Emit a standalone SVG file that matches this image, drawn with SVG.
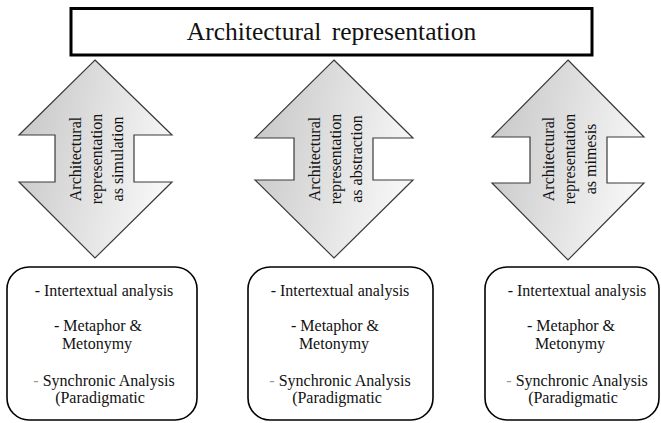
<svg xmlns="http://www.w3.org/2000/svg" width="661" height="423" viewBox="0 0 661 423">
<defs>
<linearGradient id="g" x1="0" y1="0" x2="1" y2="0.3">
<stop offset="0" stop-color="#c4c4c4"/>
<stop offset="1" stop-color="#f5f5f5"/>
</linearGradient>
<style>
text{font-family:"Liberation Serif","Times New Roman",serif;fill:#111;}
.title{font-size:25.5px;word-spacing:4px;}
.ar{fill:url(#g);stroke:#3a3a3a;stroke-width:1.2;}
.al{font-size:16px;text-anchor:middle;}
.bx{fill:#fff;stroke:#000;stroke-width:1.6;}
.bl{font-size:16px;text-anchor:middle;}
.dim{fill:#999;}
</style>
</defs>
<g id="title">
<rect x="71" y="8.5" width="521" height="46.5" fill="#fff" stroke="#000" stroke-width="3"/>
<text class="title" x="331.5" y="40" text-anchor="middle">Architectural representation</text>
</g>
<g id="connectors">
<g id="arrow1">
<path class="ar" d="M95,60 L172,135 L134,135 L134,182 L172,182 L95,258 L19,182 L55,182 L55,135 L19,135 Z"/>
<g transform="translate(95,159) rotate(-90)">
<text class="al" x="0" y="-14">Architectural</text>
<text class="al" x="0" y="7">representation</text>
<text class="al" x="0" y="28">as simulation</text>
</g>
</g>
<g id="arrow2">
<path class="ar" d="M334,60 L413,138 L373,138 L373,180 L413,180 L334,258 L255,180 L294,180 L294,138 L255,138 Z"/>
<g transform="translate(334,159) rotate(-90)">
<text class="al" x="0" y="-14">Architectural</text>
<text class="al" x="0" y="7">representation</text>
<text class="al" x="0" y="28">as abstraction</text>
</g>
</g>
<g id="arrow3">
<path class="ar" d="M568,60 L644,137 L607,137 L607,183 L644,183 L568,260 L492,183 L530,183 L530,137 L492,137 Z"/>
<g transform="translate(568,159) rotate(-90)">
<text class="al" x="0" y="-14">Architectural</text>
<text class="al" x="0" y="7">representation</text>
<text class="al" x="0" y="28">as mimesis</text>
</g>
</g>
</g>
<g id="box1">
<rect class="bx" x="7" y="267" width="190" height="153" rx="22"/>
<text class="bl" x="104" y="296">- Intertextual analysis</text>
<text class="bl" x="98" y="331">- Metaphor &amp;</text>
<text class="bl" x="97" y="349">Metonymy</text>
<text class="bl" x="104" y="386"><tspan class="dim">-</tspan> Synchronic Analysis</text>
<text class="bl" x="100" y="403">(Paradigmatic</text>
</g>
<g id="box2">
<rect class="bx" x="248" y="267" width="185" height="153" rx="22"/>
<text class="bl" x="340" y="296">- Intertextual analysis</text>
<text class="bl" x="335" y="331">- Metaphor &amp;</text>
<text class="bl" x="334" y="349">Metonymy</text>
<text class="bl" x="340" y="386"><tspan class="dim">-</tspan> Synchronic Analysis</text>
<text class="bl" x="337" y="403">(Paradigmatic</text>
</g>
<g id="box3">
<rect class="bx" x="485" y="267" width="174" height="153" rx="22"/>
<text class="bl" x="577" y="296">- Intertextual analysis</text>
<text class="bl" x="571" y="331">- Metaphor &amp;</text>
<text class="bl" x="570" y="349">Metonymy</text>
<text class="bl" x="577" y="386"><tspan class="dim">-</tspan> Synchronic Analysis</text>
<text class="bl" x="573" y="403">(Paradigmatic</text>
</g>
</svg>
